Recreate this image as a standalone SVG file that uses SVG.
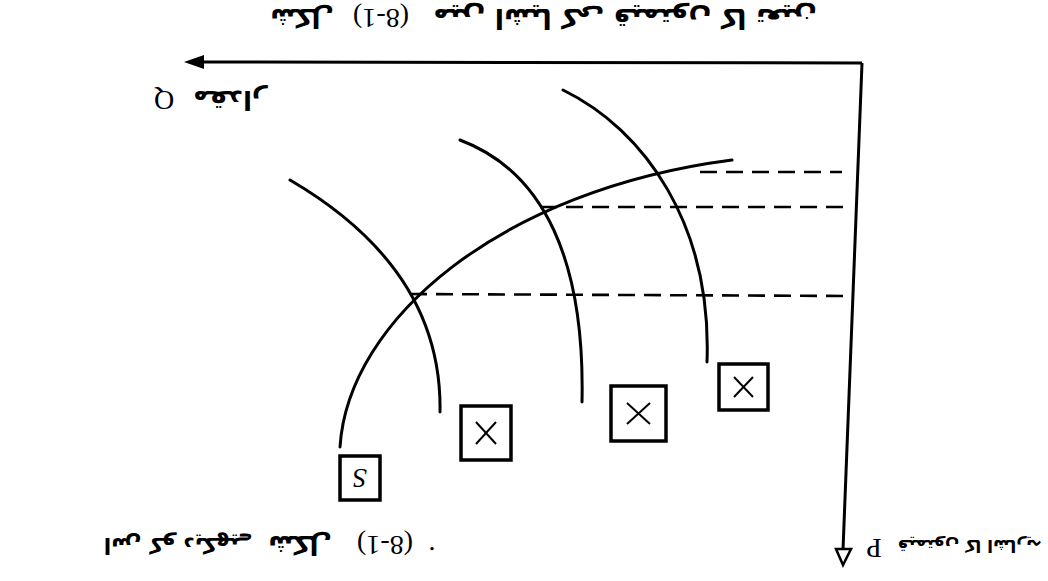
<svg xmlns="http://www.w3.org/2000/svg" width="1048" height="581" viewBox="0 0 1048 581">
<style>
.curve{fill:none;stroke:#000;stroke-width:3;stroke-linecap:round}
.axis{fill:none;stroke:#000;stroke-width:3}
.dash{fill:none;stroke:#000;stroke-width:2.6;stroke-dasharray:17 9}
.box{fill:#fff;stroke:#000;stroke-width:3.5}
.cross{stroke:#000;stroke-width:2}
.ur{font-family:"DejaVu Sans",sans-serif;font-weight:bold;fill:#000}
.num{font-family:"Liberation Serif",serif;font-size:28px;fill:#000}
.lat{font-family:"Liberation Serif",serif;font-size:28px;fill:#000}
</style>
<rect width="1048" height="581" fill="#fff"/>
<g id="connectors">
  <line class="axis" x1="862" y1="63" x2="200" y2="62"/>
  <polygon points="184,62 204,55 204,69" fill="#000"/>
  <line class="axis" x1="862" y1="63" x2="843" y2="550"/>
  <polygon points="836,549 851,549 843,565" fill="#fff" stroke="#000" stroke-width="2.5"/>
  <line class="dash" x1="700" y1="172" x2="842" y2="172"/>
  <line class="dash" x1="540" y1="207" x2="848" y2="207"/>
  <line class="dash" x1="410" y1="294" x2="850" y2="296"/>
</g>
<g id="curve-S">
  <path class="curve" d="M340,447 C348,320 500,190 732,160"/>
</g>
<g id="curve-1">
  <path class="curve" d="M290,180 C372,228 442,300 440,412"/>
</g>
<g id="curve-2">
  <path class="curve" d="M460,140 C545,172 585,262 582,402"/>
</g>
<g id="curve-3">
  <path class="curve" d="M563,90 C645,130 712,225 707,362"/>
</g>
<g id="node-S">
  <rect class="box" x="340" y="456" width="40" height="44"/>
  <text class="lat" font-style="italic" x="360" y="478" text-anchor="middle" dominant-baseline="central" transform="rotate(180 360 478)">S</text>
</g>
<g id="node-X1">
  <rect class="box" x="461" y="406" width="50" height="54"/>
  <line class="cross" x1="476" y1="422" x2="496" y2="444"/>
  <line class="cross" x1="496" y1="422" x2="476" y2="444"/>
</g>
<g id="node-X2">
  <rect class="box" x="611" y="386" width="55" height="55"/>
  <line class="cross" x1="627" y1="403" x2="650" y2="424"/>
  <line class="cross" x1="650" y1="403" x2="627" y2="424"/>
</g>
<g id="node-X3">
  <rect class="box" x="719" y="364" width="49" height="46"/>
  <line class="cross" x1="734" y1="377" x2="753" y2="397"/>
  <line class="cross" x1="753" y1="377" x2="734" y2="397"/>
</g>
<g id="axis-labels">
  <text class="lat" x="164" y="100" text-anchor="middle" dominant-baseline="central" transform="rotate(180 164 100)">Q</text>
  <text class="ur" font-size="26" x="230" y="100" text-anchor="middle" dominant-baseline="central" transform="rotate(180 230 100)">مقدار</text>
  <text class="lat" x="874" y="548" text-anchor="middle" dominant-baseline="central" transform="rotate(180 874 548)">P</text>
  <text class="ur" font-size="17" x="970" y="546" text-anchor="middle" dominant-baseline="central" transform="rotate(180 970 546)">قیمتوں کا اشاریہ</text>
</g>
<g id="captions">
  <text class="ur" font-size="26" x="302" y="18" text-anchor="middle" dominant-baseline="central" transform="rotate(180 302 18)">شکل</text>
  <text class="num" x="381" y="18" text-anchor="middle" dominant-baseline="central" transform="rotate(180 381 18)">(8-1)</text>
  <text class="ur" font-size="27" x="625" y="18" text-anchor="middle" dominant-baseline="central" transform="rotate(180 625 18)">میں اشیا کی قیمتوں کا تعین</text>
  <text class="ur" font-size="22" x="178" y="545" text-anchor="middle" dominant-baseline="central" transform="rotate(180 178 545)">اس کو دیکھیے</text>
  <text class="ur" font-size="26" x="300" y="545" text-anchor="middle" dominant-baseline="central" transform="rotate(180 300 545)">شکل</text>
  <text class="num" x="385" y="545" text-anchor="middle" dominant-baseline="central" transform="rotate(180 385 545)">(8-1)</text>
  <text class="num" x="432" y="547" text-anchor="middle" transform="rotate(180 432 547)">.</text>
</g>
</svg>
